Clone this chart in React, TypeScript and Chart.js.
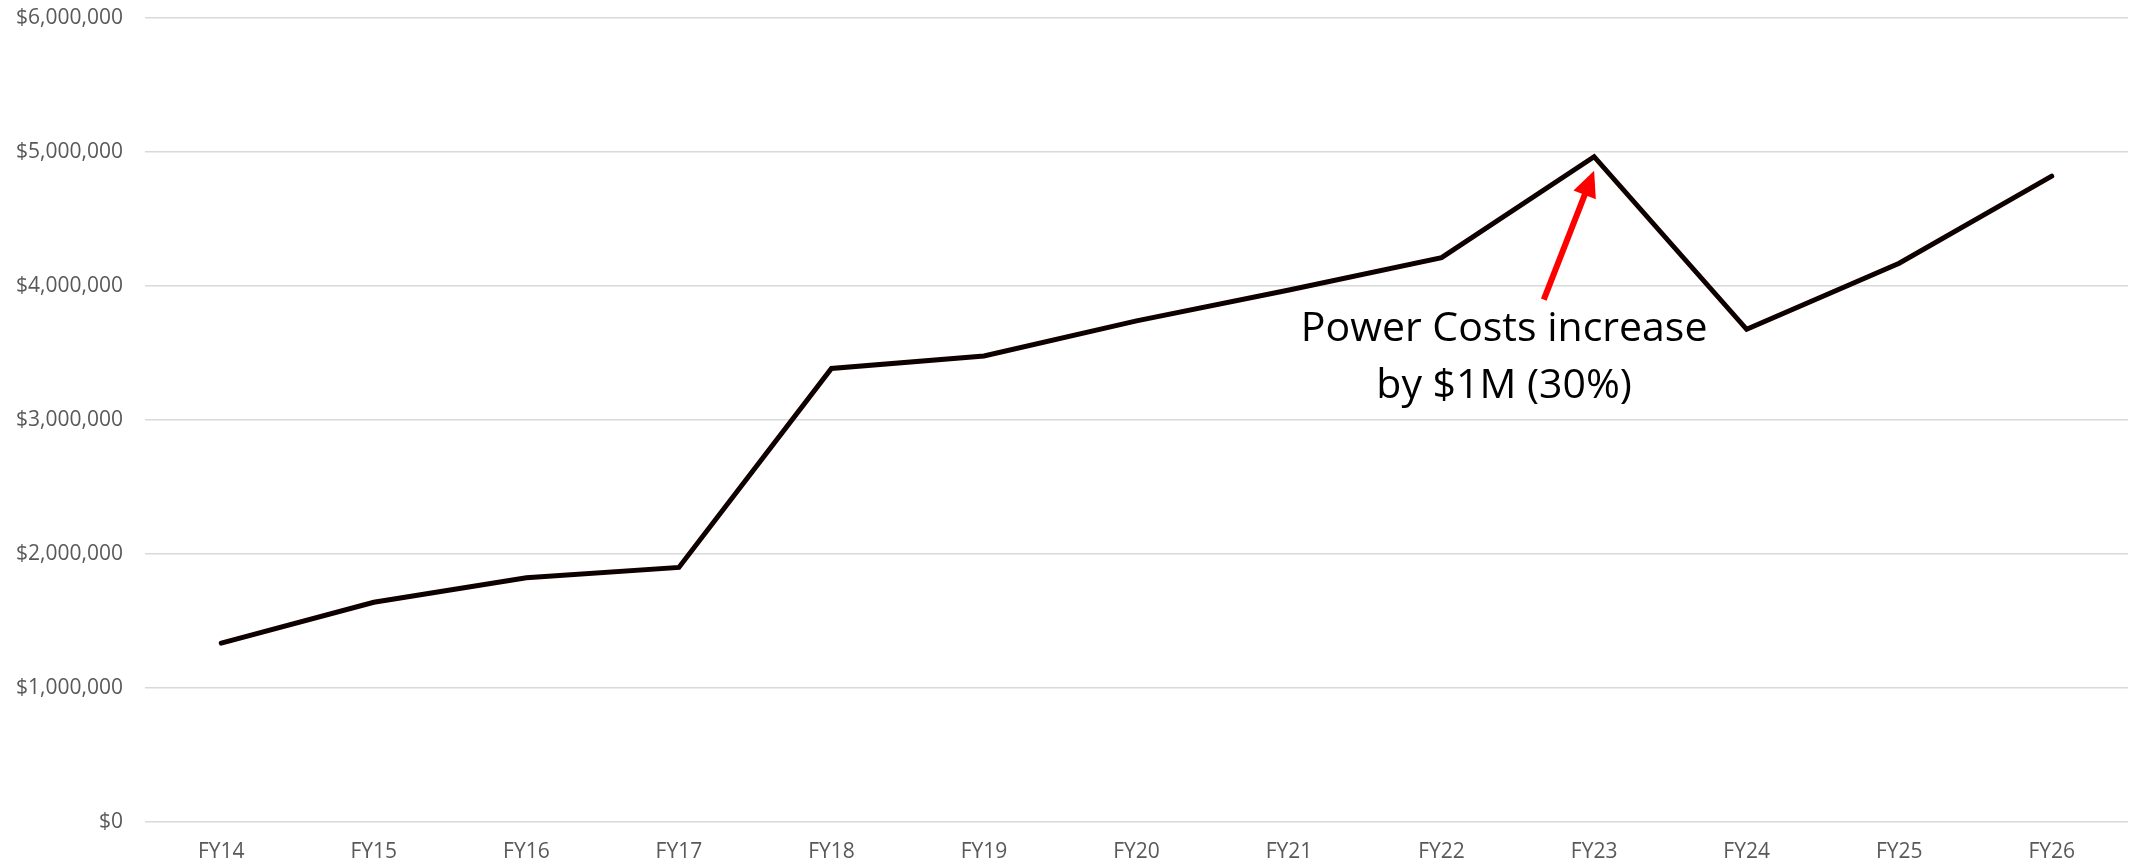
import React, { useEffect, useRef } from "react";
import { Chart, registerables } from "chart.js";

Chart.register(...registerables);

const categories = ["FY14", "FY15", "FY16", "FY17", "FY18", "FY19", "FY20", "FY21", "FY22", "FY23", "FY24", "FY25", "FY26"];
const powerCosts = [1335000, 1640000, 1823000, 1900000, 3385000, 3478000, 3740000, 3970000, 4212000, 4965000, 3677000, 4170000, 4820000];
const annotationLines = ["Power Costs increase", "by $1M (30%)"];
const annotationIndex = 9;

const annotationPlugin = {
  id: "powerAnnotation",
  afterDatasetsDraw(chart: any) {
    const { ctx, scales } = chart;
    const x = scales.x;
    const y = scales.y;
    const px = x.getPixelForValue(annotationIndex);
    const py = y.getPixelForValue(powerCosts[annotationIndex]);
    const step = x.getPixelForValue(1) - x.getPixelForValue(0);
    const tipX = px;
    const tipY = py + 14;
    const startX = px - step * 0.33;
    const startY = py + 143;
    ctx.save();
    const ang = Math.atan2(tipY - startY, tipX - startX);
    const headLen = 26;
    const headW = 12;
    const baseX = tipX - headLen * Math.cos(ang);
    const baseY = tipY - headLen * Math.sin(ang);
    ctx.strokeStyle = "#ff0000";
    ctx.lineWidth = 6;
    ctx.beginPath();
    ctx.moveTo(startX, startY);
    ctx.lineTo(baseX + 2 * Math.cos(ang), baseY + 2 * Math.sin(ang));
    ctx.stroke();
    ctx.fillStyle = "#ff0000";
    ctx.beginPath();
    ctx.moveTo(tipX, tipY);
    ctx.lineTo(baseX + headW * Math.sin(ang), baseY - headW * Math.cos(ang));
    ctx.lineTo(baseX - headW * Math.sin(ang), baseY + headW * Math.cos(ang));
    ctx.closePath();
    ctx.fill();
    ctx.fillStyle = "#000000";
    ctx.font = '41px "Open Sans", sans-serif';
    ctx.textAlign = "center";
    ctx.textBaseline = "alphabetic";
    const cx = px - step * 0.59;
    ctx.fillText(annotationLines[0], cx, py + 184);
    ctx.fillText(annotationLines[1], cx, py + 241);
    ctx.restore();
  },
};

export default function App() {
  const ref = useRef<HTMLCanvasElement>(null);
  useEffect(() => {
    document.body.style.margin = "0";
    const chart = new Chart(ref.current!, {
      type: "line",
      data: {
        labels: categories,
        datasets: [
          {
            data: powerCosts,
            borderColor: "#0f0000",
            borderWidth: 5,
            pointRadius: 0,
            tension: 0,
            fill: false,
            borderCapStyle: "round",
          },
        ],
      },
      options: {
        responsive: false,
        animation: false,
        maintainAspectRatio: false,
        layout: { padding: { top: 18, right: 5, left: 0, bottom: 0 } },
        plugins: { legend: { display: false }, tooltip: { enabled: false } },
        scales: {
          x: {
            offset: true,
            grid: { display: false, drawTicks: false },
            border: { display: false },
            ticks: { color: "#595959", font: { family: "Open Sans", size: 21 }, padding: 17 },
            afterFit: (s: any) => { s.height = 45; s.paddingLeft = 0; s.paddingRight = 0; },
          },
          y: {
            min: 0,
            max: 6000000,
            grid: { color: "#d9d9d9", lineWidth: 1.5, drawTicks: false },
            border: { display: false },
            ticks: {
              stepSize: 1000000,
              color: "#595959",
              font: { family: "Open Sans", size: 21 },
              padding: 22,
              callback: (v: any) => "$" + Number(v).toLocaleString("en-US"),
            },
            afterFit: (s: any) => { s.width = 145; s.paddingTop = 0; s.paddingBottom = 0; },
          },
        },
      },
      plugins: [annotationPlugin],
    });
    return () => chart.destroy();
  }, []);
  return <canvas ref={ref} width={2133} height={867} style={{ display: "block" }} />;
}
